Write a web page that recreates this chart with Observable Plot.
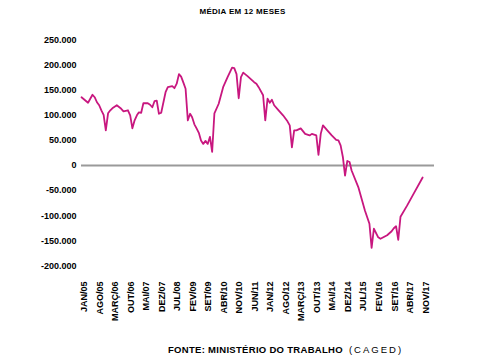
<!DOCTYPE html>
<html>
<head>
<meta charset="utf-8">
<script src="https://cdn.jsdelivr.net/npm/d3@7"></script>
<script src="https://cdn.jsdelivr.net/npm/@observablehq/plot@0.6"></script>
<style>
  html, body { margin: 0; padding: 0; background: #fff; }
  body { width: 480px; height: 358px; position: relative; overflow: hidden;
         font-family: "Liberation Sans", Arial, sans-serif; color: #000; }
  #title { height: 24px; line-height: 24px; text-align: center; font-size: 8px;
           font-weight: bold; letter-spacing: 0.3px; padding-left: 5px; }
  #caption { position: absolute; left: 168px; top: 343px; font-size: 9.5px;
             line-height: 14px; white-space: nowrap; }
  #caption b { letter-spacing: 0.3px; }
  #caption span { letter-spacing: 2px; margin-left: 6px; }
</style>
</head>
<body>
<div id="title">MÉDIA EM 12 MESES</div>
<div id="chart"></div>
<div id="caption"><b>FONTE: MINISTÉRIO DO TRABALHO</b><span>(CAGED)</span></div>
<script>
// Monthly vertices (12-month average, jobs)
const months = [
  "2005-01","2005-04","2005-06","2005-07","2005-08","2005-09","2005-10","2005-11","2005-12",
  "2006-01","2006-02","2006-03","2006-05","2006-07","2006-08","2006-10","2006-11","2006-12",
  "2007-01","2007-02","2007-03","2007-04","2007-05","2007-07","2007-08","2007-09","2007-10","2007-11","2007-12",
  "2008-01","2008-03","2008-04","2008-06","2008-07","2008-08","2008-09","2008-10","2008-11","2008-12",
  "2009-01","2009-02","2009-03","2009-04","2009-05","2009-06","2009-07","2009-08","2009-09","2009-10","2009-11","2009-12",
  "2010-01","2010-03","2010-05","2010-07","2010-09","2010-10","2010-11","2010-12",
  "2011-01","2011-02","2011-04","2011-05","2011-07","2011-08","2011-09","2011-11","2011-12",
  "2012-01","2012-02","2012-03","2012-04","2012-06","2012-08","2012-10","2012-11","2012-12",
  "2013-01","2013-02","2013-04","2013-06","2013-08","2013-09","2013-11","2013-12",
  "2014-01","2014-02","2014-04","2014-06","2014-08","2014-09","2014-10","2014-11","2014-12",
  "2015-01","2015-02","2015-03","2015-06","2015-09","2015-11","2015-12",
  "2016-01","2016-03","2016-04","2016-07","2016-09","2016-10","2016-11","2016-12",
  "2017-01","2017-04","2017-07","2017-11"
];
const values = [
  136000,125000,141000,136000,126000,120000,110000,101000,70000,
  104000,110000,114000,120000,113000,108000,110000,100000,74000,
  90000,100000,106000,105000,124000,124000,121000,116000,128000,129000,103000,
  105000,146000,156000,158000,154000,163000,182000,177000,165000,153000,
  90000,103000,96000,82000,74000,65000,50000,43000,49000,43000,57000,27000,
  104000,123000,156000,176000,195000,194000,182000,134000,
  176000,185000,178000,174000,166000,163000,156000,140000,90000,
  133000,125000,131000,120000,110000,100000,88000,80000,36000,
  70000,70000,74000,63000,60000,63000,60000,21000,
  63000,80000,70000,60000,51000,50000,40000,17000,-20000,
  9000,7000,-10000,-43000,-90000,-116000,-164000,
  -126000,-143000,-146000,-139000,-131000,-125000,-121000,-148000,
  -102000,-80000,-56000,-24000
];
const tickMonths = ["2005-01","2005-08","2006-03","2006-10","2007-05","2007-12","2008-07","2009-02",
  "2009-09","2010-04","2010-11","2011-06","2012-01","2012-08","2013-03","2013-10","2014-05",
  "2014-12","2015-07","2016-02","2016-09","2017-04","2017-11"];
const tickLabels = ["JAN/05","AGO/05","MARÇ/06","OUT/06","MAI/07","DEZ/07","JUL/08","FEV/09",
  "SET/09","ABR/10","NOV/10","JUN/11","JAN/12","AGO/12","MARÇ/13","OUT/13","MAI/14",
  "DEZ/14","JUL/15","FEV/16","SET/16","ABR/17","NOV/17"];
const yTicks = [250000,200000,150000,100000,50000,0,-50000,-100000,-150000,-200000];

const parse = d3.utcParse("%Y-%m");
const data = months.map((m, i) => ({date: parse(m), value: values[i]}));
const tickDates = tickMonths.map(parse);
const labelByTime = new Map(tickDates.map((d, i) => [+d, tickLabels[i]]));
const fmt = d3.formatLocale({decimal: ",", thousands: ".", grouping: [3], currency: ["", ""], minus: "-"}).format(",d");

const H = 310;
const chart = Plot.plot({
  width: 480,
  height: H,
  marginTop: 15.5,
  marginBottom: H - 241.4,
  marginLeft: 81,
  marginRight: 46,
  style: {fontFamily: "'Liberation Sans', Arial, sans-serif", fontSize: "9px", fontWeight: "bold", background: "#fff", color: "#000", overflow: "visible"},
  x: {type: "utc", domain: [parse("2005-01"), new Date(Date.UTC(2018, 3, 13))]},
  y: {domain: [-200000, 250000]},
  marks: [
    Plot.ruleY([0], {stroke: "#9a9a9a", strokeWidth: 2.2}),
    Plot.line(data, {x: "date", y: "value", stroke: "#c8177f", strokeWidth: 1.8, strokeLinejoin: "round"}),
    Plot.axisY(yTicks, {tickSize: 0, tickPadding: 5, tickFormat: fmt, label: null}),
    Plot.axisX(tickDates, {tickSize: 0, tickPadding: 15.6, tickRotate: -90, dx: 3,
      tickFormat: d => labelByTime.get(+d), label: null})
  ]
});
document.getElementById("chart").appendChild(chart);
</script>
</body>
</html>
